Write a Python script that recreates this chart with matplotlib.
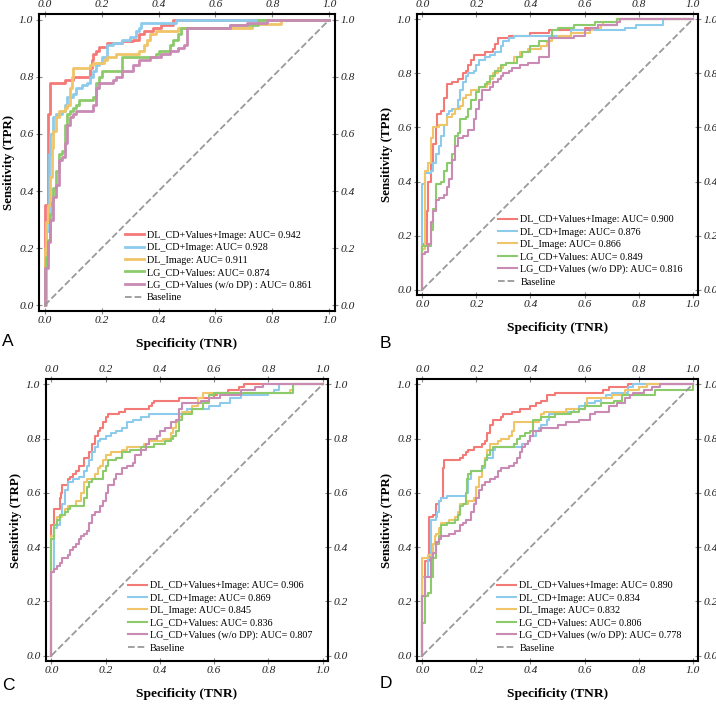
import matplotlib
matplotlib.use('Agg')
import matplotlib.pyplot as plt

plt.rcParams['font.family'] = ['Liberation Serif', 'DejaVu Serif']

MODELS = ['DL_CD+Values+Image', 'DL_CD+Image', 'DL_Image', 'LG_CD+Values', 'LG_CD+Values (w/o DP)']
COLORS = ['#f47a78', '#8ccbec', '#f0c468', '#8ccb6c', '#c98ab4']

# ---- panel A ----
A_AUC = [0.942, 0.928, 0.911, 0.874, 0.861]
A_RED_FPR = [0, 0.01, 0.02, 0.07, 0.10, 0.16, 0.165, 0.17, 0.18, 0.19, 0.22, 0.27, 0.31, 0.33, 0.35, 0.38, 0.41, 0.45]
A_RED_TPR = [0.35, 0.67, 0.78, 0.79, 0.80, 0.83, 0.86, 0.88, 0.89, 0.905, 0.92, 0.925, 0.93, 0.95, 0.96, 0.97, 0.98, 1.0]
A_BLUE_FPR = [0.005, 0.015, 0.02, 0.03, 0.04, 0.06, 0.07, 0.08, 0.10, 0.11, 0.13, 0.15, 0.16, 0.17, 0.18, 0.19, 0.20, 0.22, 0.24, 0.27, 0.30, 0.32, 0.33, 0.34, 0.46]
A_BLUE_TPR = [0.26, 0.53, 0.60, 0.66, 0.67, 0.68, 0.70, 0.73, 0.74, 0.76, 0.77, 0.78, 0.80, 0.82, 0.84, 0.85, 0.87, 0.91, 0.92, 0.93, 0.94, 0.96, 0.97, 0.99, 1.0]
A_YEL_FPR = [0, 0.005, 0.01, 0.02, 0.025, 0.03, 0.04, 0.05, 0.07, 0.08, 0.09, 0.095, 0.10, 0.16, 0.17, 0.21, 0.22, 0.25, 0.33, 0.35, 0.36, 0.37, 0.39, 0.47, 0.73, 0.83]
A_YEL_TPR = [0.20, 0.29, 0.35, 0.45, 0.55, 0.61, 0.66, 0.68, 0.69, 0.70, 0.76, 0.80, 0.83, 0.84, 0.85, 0.86, 0.87, 0.88, 0.89, 0.91, 0.93, 0.95, 0.96, 0.97, 0.985, 1.0]
A_GRN_FPR = [0, 0.005, 0.01, 0.02, 0.025, 0.03, 0.04, 0.05, 0.06, 0.07, 0.08, 0.09, 0.10, 0.11, 0.12, 0.17, 0.18, 0.19, 0.20, 0.27, 0.39, 0.40, 0.44, 0.45, 0.47, 0.48, 0.65, 0.75]
A_GRN_TPR = [0.13, 0.17, 0.23, 0.32, 0.36, 0.41, 0.47, 0.53, 0.54, 0.63, 0.67, 0.68, 0.69, 0.70, 0.72, 0.73, 0.78, 0.80, 0.82, 0.87, 0.88, 0.89, 0.91, 0.93, 0.95, 0.97, 0.98, 1.0]
A_PUR_FPR = [0, 0.01, 0.02, 0.03, 0.04, 0.05, 0.06, 0.07, 0.08, 0.09, 0.10, 0.11, 0.17, 0.18, 0.19, 0.24, 0.25, 0.27, 0.31, 0.33, 0.37, 0.41, 0.44, 0.47, 0.49, 0.50, 0.65, 0.71, 0.78]
A_PUR_TPR = [0.13, 0.22, 0.30, 0.38, 0.42, 0.51, 0.52, 0.57, 0.63, 0.66, 0.67, 0.68, 0.70, 0.76, 0.78, 0.79, 0.80, 0.82, 0.84, 0.86, 0.87, 0.88, 0.89, 0.90, 0.91, 0.97, 0.98, 0.99, 1.0]

# ---- panel B ----
B_AUC = [0.900, 0.876, 0.866, 0.849, 0.816]
B_RED_FPR = [0, 0.016, 0.02, 0.03, 0.04, 0.05, 0.055, 0.07, 0.08, 0.09, 0.11, 0.13, 0.15, 0.16, 0.17, 0.18, 0.19, 0.23, 0.26, 0.27, 0.28, 0.32, 0.40, 0.47, 0.60, 0.65, 0.72]
B_RED_TPR = [0.17, 0.29, 0.40, 0.47, 0.54, 0.60, 0.65, 0.66, 0.71, 0.76, 0.77, 0.78, 0.80, 0.81, 0.83, 0.85, 0.87, 0.88, 0.89, 0.91, 0.93, 0.94, 0.95, 0.96, 0.97, 0.98, 1.0]
B_BLUE_FPR = [0, 0.01, 0.03, 0.04, 0.05, 0.06, 0.07, 0.08, 0.09, 0.10, 0.11, 0.13, 0.14, 0.15, 0.16, 0.17, 0.19, 0.20, 0.21, 0.23, 0.25, 0.27, 0.29, 0.30, 0.32, 0.34, 0.55, 0.75, 0.79, 0.89]
B_BLUE_TPR = [0.39, 0.43, 0.44, 0.47, 0.50, 0.53, 0.57, 0.61, 0.65, 0.66, 0.67, 0.70, 0.74, 0.77, 0.79, 0.80, 0.81, 0.83, 0.85, 0.86, 0.87, 0.88, 0.90, 0.92, 0.93, 0.94, 0.96, 0.97, 0.98, 1.0]
B_YEL_FPR = [0, 0.01, 0.02, 0.03, 0.04, 0.06, 0.09, 0.11, 0.12, 0.14, 0.15, 0.16, 0.18, 0.21, 0.24, 0.25, 0.26, 0.28, 0.30, 0.31, 0.34, 0.36, 0.39, 0.44, 0.46, 0.48, 0.50, 0.55, 0.62, 0.63, 0.66, 0.67, 0.72]
B_YEL_TPR = [0.15, 0.44, 0.47, 0.56, 0.60, 0.61, 0.64, 0.65, 0.67, 0.68, 0.71, 0.72, 0.74, 0.75, 0.76, 0.78, 0.80, 0.82, 0.83, 0.84, 0.86, 0.88, 0.89, 0.90, 0.92, 0.93, 0.94, 0.95, 0.96, 0.97, 0.98, 0.99, 1.0]
B_GRN_FPR = [0, 0.03, 0.04, 0.05, 0.07, 0.08, 0.09, 0.11, 0.12, 0.13, 0.14, 0.16, 0.17, 0.18, 0.20, 0.21, 0.23, 0.24, 0.25, 0.27, 0.29, 0.31, 0.35, 0.37, 0.40, 0.43, 0.47, 0.48, 0.50, 0.56, 0.64, 0.72]
B_GRN_TPR = [0.16, 0.22, 0.30, 0.39, 0.40, 0.44, 0.47, 0.50, 0.57, 0.58, 0.63, 0.64, 0.67, 0.70, 0.73, 0.75, 0.76, 0.77, 0.79, 0.81, 0.83, 0.84, 0.86, 0.88, 0.90, 0.92, 0.93, 0.96, 0.97, 0.98, 0.99, 1.0]
B_PUR_FPR = [0, 0.01, 0.02, 0.03, 0.04, 0.05, 0.06, 0.08, 0.09, 0.10, 0.11, 0.12, 0.13, 0.15, 0.17, 0.19, 0.20, 0.21, 0.22, 0.25, 0.26, 0.28, 0.29, 0.30, 0.32, 0.33, 0.36, 0.39, 0.43, 0.47, 0.56, 0.60, 0.62, 0.65, 0.72, 0.73]
B_PUR_TPR = [0.13, 0.14, 0.17, 0.25, 0.29, 0.33, 0.34, 0.35, 0.38, 0.41, 0.48, 0.53, 0.56, 0.57, 0.59, 0.63, 0.67, 0.70, 0.74, 0.75, 0.77, 0.78, 0.79, 0.80, 0.81, 0.82, 0.83, 0.84, 0.86, 0.93, 0.94, 0.96, 0.97, 0.98, 0.99, 1.0]

# ---- panel C ----
C_AUC = [0.906, 0.869, 0.845, 0.836, 0.807]
C_RED_FPR = [0, 0.01, 0.03, 0.035, 0.04, 0.06, 0.07, 0.08, 0.09, 0.10, 0.12, 0.14, 0.15, 0.16, 0.17, 0.18, 0.19, 0.20, 0.21, 0.25, 0.27, 0.36, 0.37, 0.38, 0.47, 0.60, 0.61, 0.65, 0.69, 0.71]
C_RED_TPR = [0.48, 0.54, 0.58, 0.60, 0.63, 0.65, 0.66, 0.67, 0.68, 0.70, 0.73, 0.75, 0.78, 0.81, 0.83, 0.84, 0.86, 0.88, 0.89, 0.90, 0.91, 0.92, 0.93, 0.94, 0.95, 0.96, 0.97, 0.98, 0.99, 1.0]
C_BLUE_FPR = [0, 0.01, 0.02, 0.03, 0.04, 0.05, 0.06, 0.08, 0.10, 0.12, 0.13, 0.14, 0.15, 0.16, 0.17, 0.18, 0.20, 0.22, 0.24, 0.26, 0.28, 0.30, 0.33, 0.36, 0.50, 0.58, 0.62, 0.66, 0.70, 0.80, 0.82, 0.84]
C_BLUE_TPR = [0.31, 0.47, 0.48, 0.52, 0.56, 0.61, 0.64, 0.65, 0.66, 0.68, 0.70, 0.72, 0.75, 0.77, 0.79, 0.80, 0.81, 0.82, 0.83, 0.84, 0.86, 0.87, 0.88, 0.89, 0.91, 0.92, 0.93, 0.95, 0.96, 0.97, 0.98, 1.0]
C_YEL_FPR = [0, 0.01, 0.02, 0.04, 0.05, 0.06, 0.09, 0.11, 0.12, 0.13, 0.16, 0.17, 0.18, 0.19, 0.20, 0.22, 0.26, 0.28, 0.34, 0.36, 0.41, 0.44, 0.45, 0.46, 0.47, 0.48, 0.52, 0.54, 0.56, 0.88, 0.89]
C_YEL_TPR = [0.44, 0.48, 0.51, 0.52, 0.54, 0.55, 0.57, 0.60, 0.64, 0.65, 0.67, 0.69, 0.70, 0.72, 0.74, 0.75, 0.76, 0.77, 0.78, 0.79, 0.80, 0.82, 0.84, 0.86, 0.88, 0.90, 0.92, 0.95, 0.97, 0.98, 1.0]
C_GRN_FPR = [0, 0.01, 0.02, 0.03, 0.05, 0.06, 0.07, 0.12, 0.13, 0.14, 0.15, 0.19, 0.20, 0.21, 0.24, 0.26, 0.29, 0.33, 0.38, 0.42, 0.44, 0.45, 0.46, 0.47, 0.48, 0.52, 0.56, 0.58, 0.60, 0.89]
C_GRN_TPR = [0.43, 0.48, 0.50, 0.52, 0.53, 0.54, 0.55, 0.58, 0.62, 0.64, 0.65, 0.68, 0.70, 0.72, 0.73, 0.75, 0.76, 0.77, 0.78, 0.79, 0.80, 0.81, 0.83, 0.87, 0.89, 0.91, 0.93, 0.96, 0.97, 1.0]
C_PUR_FPR = [0, 0.01, 0.02, 0.03, 0.04, 0.06, 0.07, 0.08, 0.09, 0.10, 0.11, 0.12, 0.13, 0.14, 0.15, 0.16, 0.18, 0.19, 0.20, 0.21, 0.23, 0.24, 0.26, 0.28, 0.30, 0.31, 0.33, 0.35, 0.36, 0.39, 0.40, 0.42, 0.44, 0.46, 0.47, 0.48, 0.55, 0.58, 0.62, 0.70, 0.75, 0.78]
C_PUR_TPR = [0.31, 0.32, 0.33, 0.34, 0.36, 0.37, 0.39, 0.40, 0.41, 0.43, 0.44, 0.45, 0.46, 0.49, 0.52, 0.53, 0.55, 0.57, 0.60, 0.63, 0.65, 0.67, 0.69, 0.70, 0.71, 0.74, 0.76, 0.78, 0.80, 0.81, 0.83, 0.84, 0.86, 0.87, 0.91, 0.93, 0.94, 0.95, 0.96, 0.98, 0.99, 1.0]

# ---- panel D ----
D_AUC = [0.890, 0.834, 0.832, 0.806, 0.778]
D_RED_FPR = [0, 0.01, 0.025, 0.04, 0.05, 0.06, 0.07, 0.075, 0.08, 0.14, 0.15, 0.16, 0.17, 0.19, 0.22, 0.23, 0.24, 0.25, 0.26, 0.29, 0.30, 0.33, 0.36, 0.40, 0.42, 0.44, 0.46, 0.49, 0.67, 0.69, 0.76]
D_RED_TPR = [0.22, 0.35, 0.51, 0.52, 0.56, 0.57, 0.58, 0.69, 0.72, 0.73, 0.74, 0.75, 0.76, 0.77, 0.78, 0.79, 0.82, 0.85, 0.87, 0.88, 0.89, 0.90, 0.91, 0.92, 0.93, 0.94, 0.96, 0.97, 0.98, 0.99, 1.0]
D_BLUE_FPR = [0, 0.02, 0.03, 0.05, 0.055, 0.06, 0.07, 0.09, 0.16, 0.17, 0.18, 0.22, 0.23, 0.24, 0.26, 0.27, 0.37, 0.39, 0.40, 0.42, 0.43, 0.44, 0.46, 0.47, 0.52, 0.56, 0.58, 0.60, 0.64, 0.66, 0.68, 0.70, 0.76, 0.78]
D_BLUE_TPR = [0.29, 0.36, 0.50, 0.51, 0.53, 0.57, 0.58, 0.59, 0.60, 0.65, 0.68, 0.69, 0.72, 0.73, 0.76, 0.77, 0.78, 0.79, 0.81, 0.83, 0.84, 0.85, 0.87, 0.89, 0.90, 0.91, 0.92, 0.93, 0.94, 0.95, 0.96, 0.97, 0.99, 1.0]
D_YEL_FPR = [0, 0.02, 0.04, 0.045, 0.05, 0.06, 0.07, 0.10, 0.12, 0.13, 0.14, 0.17, 0.19, 0.20, 0.21, 0.22, 0.23, 0.24, 0.25, 0.28, 0.29, 0.32, 0.33, 0.34, 0.43, 0.44, 0.45, 0.53, 0.60, 0.61, 0.70, 0.75, 0.80, 0.83]
D_YEL_TPR = [0.36, 0.37, 0.41, 0.44, 0.45, 0.47, 0.49, 0.50, 0.51, 0.53, 0.56, 0.57, 0.58, 0.62, 0.66, 0.70, 0.73, 0.76, 0.78, 0.79, 0.80, 0.81, 0.83, 0.86, 0.87, 0.89, 0.90, 0.91, 0.92, 0.95, 0.96, 0.98, 0.99, 1.0]
D_GRN_FPR = [0, 0.01, 0.02, 0.03, 0.04, 0.05, 0.06, 0.07, 0.09, 0.12, 0.13, 0.14, 0.15, 0.16, 0.165, 0.17, 0.18, 0.22, 0.23, 0.24, 0.25, 0.26, 0.34, 0.35, 0.36, 0.38, 0.40, 0.41, 0.44, 0.49, 0.55, 0.58, 0.60, 0.66, 0.71, 0.74, 0.86, 1.0]
D_GRN_TPR = [0.12, 0.22, 0.23, 0.29, 0.36, 0.41, 0.44, 0.48, 0.49, 0.50, 0.52, 0.55, 0.56, 0.60, 0.65, 0.67, 0.68, 0.70, 0.72, 0.74, 0.76, 0.77, 0.78, 0.80, 0.81, 0.82, 0.83, 0.87, 0.88, 0.89, 0.90, 0.91, 0.92, 0.93, 0.94, 0.96, 0.98, 1.0]
D_PUR_FPR = [0, 0.01, 0.03, 0.04, 0.05, 0.06, 0.07, 0.10, 0.12, 0.14, 0.15, 0.16, 0.18, 0.19, 0.20, 0.21, 0.22, 0.23, 0.25, 0.27, 0.28, 0.29, 0.32, 0.34, 0.35, 0.36, 0.37, 0.38, 0.39, 0.40, 0.41, 0.44, 0.50, 0.53, 0.58, 0.62, 0.64, 0.69, 0.72, 0.75, 0.77, 0.78, 0.82, 0.85, 0.88]
D_PUR_TPR = [0.22, 0.29, 0.36, 0.38, 0.42, 0.43, 0.44, 0.45, 0.46, 0.48, 0.49, 0.50, 0.53, 0.56, 0.58, 0.61, 0.63, 0.64, 0.65, 0.66, 0.68, 0.69, 0.70, 0.71, 0.73, 0.75, 0.77, 0.78, 0.79, 0.81, 0.83, 0.84, 0.85, 0.86, 0.87, 0.89, 0.90, 0.92, 0.93, 0.95, 0.96, 0.97, 0.98, 0.99, 1.0]

TICKS = [0.0, 0.2, 0.4, 0.6, 0.8, 1.0]
TICK_LABELS = ['0.0', '0.2', '0.4', '0.6', '0.8', '1.0']


def draw_panel(rect, curves, aucs, ylabel, leg_x, lw, letter, letter_xy, purple_sep=': '):
    ax = fig.add_axes(rect)
    for i, (fpr, tpr) in enumerate(curves):
        sep = purple_sep if i == 4 else ': '
        label = f'{MODELS[i]}{sep}AUC= {aucs[i]:.3f}'
        ax.step([0] + fpr + [1], [0] + tpr + [1], where='post',
                color=COLORS[i], lw=lw, label=label)
    ax.plot([0, 1], [0, 1], ls='--', color='#9a9a9a', lw=1.3, label='Baseline')

    ax.set_xlim(-0.02, 1.02)
    ax.set_ylim(-0.02, 1.02)
    ax.set_xticks(TICKS)
    ax.set_yticks(TICKS)
    ax.tick_params(direction='inout', length=4, width=0.8, color='#888888',
                   top=True, right=True, labeltop=True, labelright=True, pad=2)
    ax.tick_params(axis='x', pad=1.5)
    ax.set_xticklabels(TICK_LABELS, fontstyle='italic', fontsize=8.2, color='#222222')
    ax.set_yticklabels(TICK_LABELS, fontstyle='italic', fontsize=8.2, color='#222222')
    for s in ax.spines.values():
        s.set_linewidth(1.5)

    ax.set_xlabel('Specificity (TNR)', fontsize=9.7, fontweight='bold', labelpad=9.5)
    ax.set_ylabel(ylabel, fontsize=9.3, fontweight='bold', labelpad=3)

    ax.legend(loc='lower left', bbox_to_anchor=(leg_x, 0.03), frameon=False,
              fontsize=7.3, handlelength=1.9, handletextpad=0.3,
              labelspacing=0.32, borderpad=0, borderaxespad=0)
    fig.text(letter_xy[0] / 716, 1 - letter_xy[1] / 704, letter,
             family='Liberation Sans', fontsize=12.5, va='center', ha='left')
    return ax


fig = plt.figure(figsize=(7.16, 7.04), dpi=100)

draw_panel([39 / 716, 1 - 311 / 704, 296 / 716, 297 / 704],
           [(A_RED_FPR, A_RED_TPR), (A_BLUE_FPR, A_BLUE_TPR), (A_YEL_FPR, A_YEL_TPR),
            (A_GRN_FPR, A_GRN_TPR), (A_PUR_FPR, A_PUR_TPR)],
           A_AUC, 'Sensitivity (TPR)', 0.29, 2.0, 'A', (2, 341), purple_sep=' : ')
draw_panel([417 / 716, 1 - 295 / 704, 281 / 716, 281 / 704],
           [(B_RED_FPR, B_RED_TPR), (B_BLUE_FPR, B_BLUE_TPR), (B_YEL_FPR, B_YEL_TPR),
            (B_GRN_FPR, B_GRN_TPR), (B_PUR_FPR, B_PUR_TPR)],
           B_AUC, 'Sensitivity (TPR)', 0.288, 1.5, 'B', (380, 343))
draw_panel([46 / 716, 1 - 661 / 704, 282 / 716, 282 / 704],
           [(C_RED_FPR, C_RED_TPR), (C_BLUE_FPR, C_BLUE_TPR), (C_YEL_FPR, C_YEL_TPR),
            (C_GRN_FPR, C_GRN_TPR), (C_PUR_FPR, C_PUR_TPR)],
           C_AUC, 'Sensitivity (TRP)', 0.29, 1.5, 'C', (2, 686))
draw_panel([417 / 716, 1 - 661 / 704, 281 / 716, 282 / 704],
           [(D_RED_FPR, D_RED_TPR), (D_BLUE_FPR, D_BLUE_TPR), (D_YEL_FPR, D_YEL_TPR),
            (D_GRN_FPR, D_GRN_TPR), (D_PUR_FPR, D_PUR_TPR)],
           D_AUC, 'Sensitivity (TPR)', 0.285, 1.5, 'D', (380, 684))

fig.savefig('out.png', dpi=100)
